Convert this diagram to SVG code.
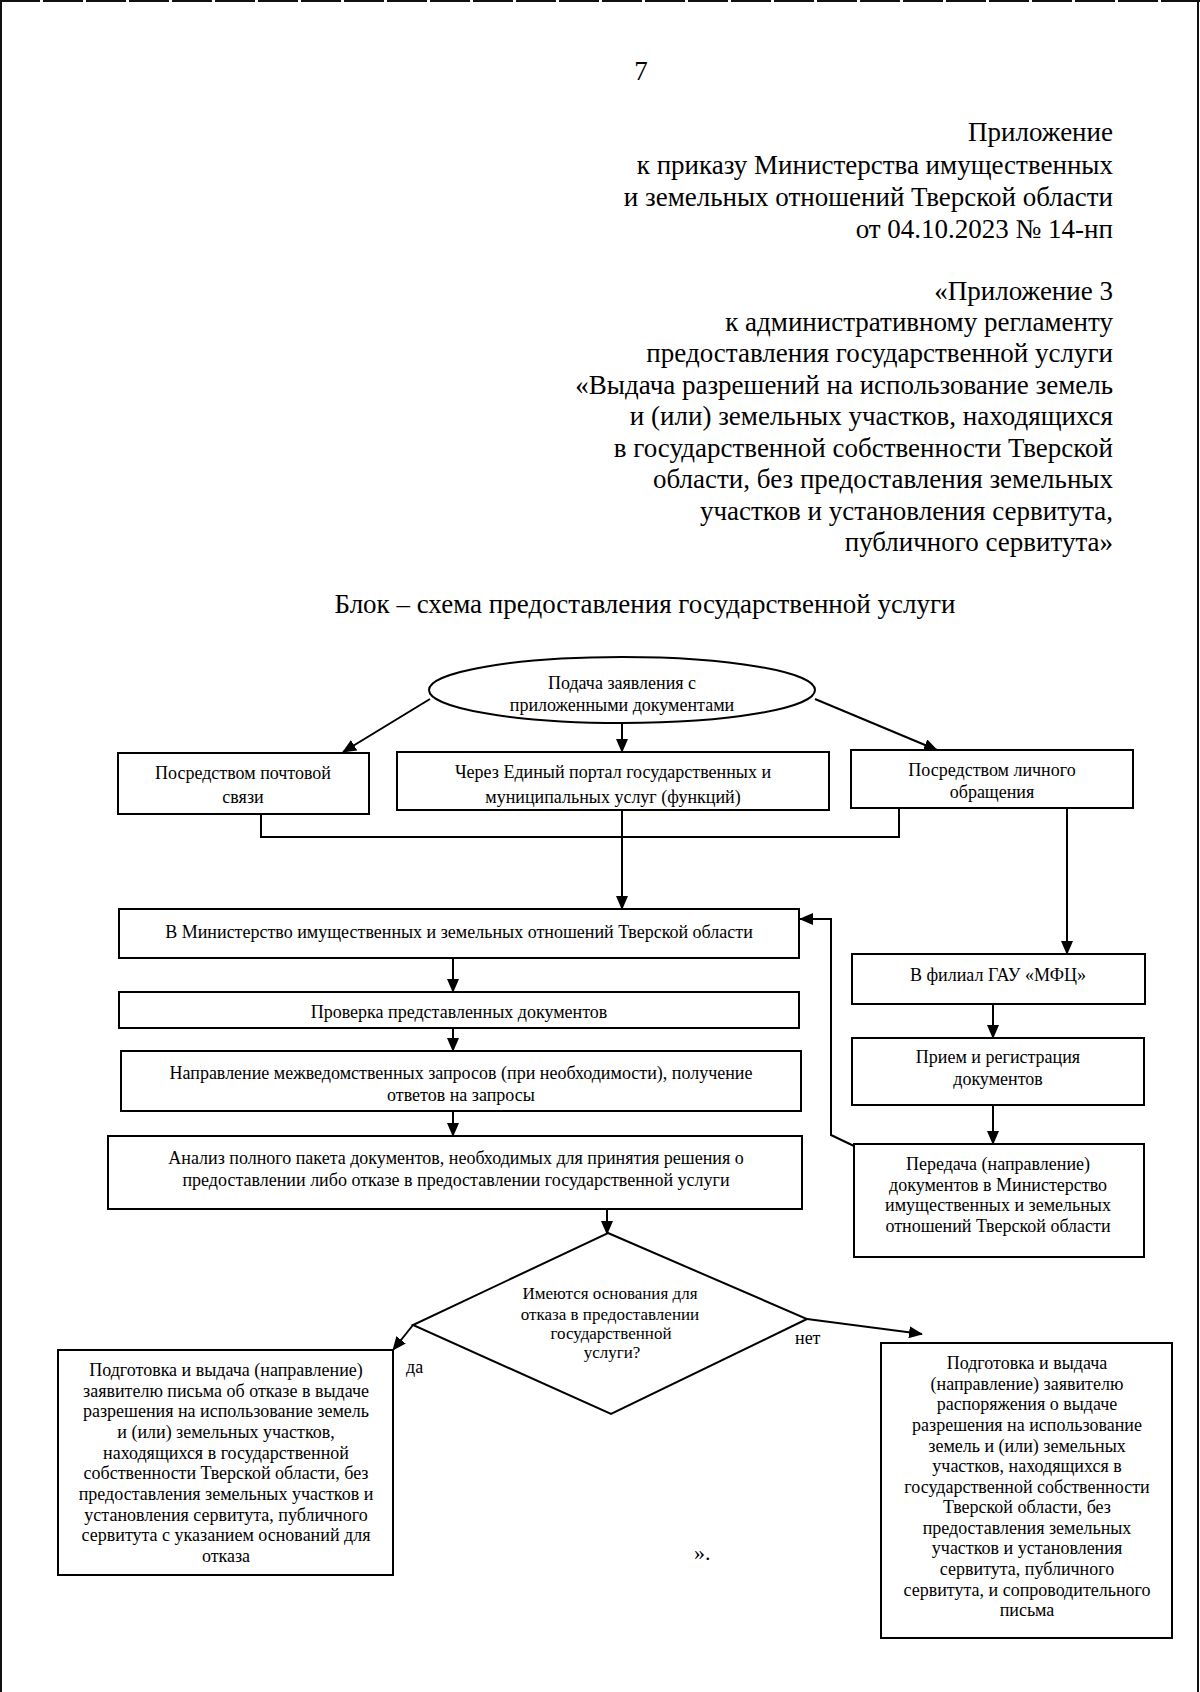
<svg xmlns="http://www.w3.org/2000/svg" width="1200" height="1692" viewBox="0 0 1200 1692">
<style>
text{font-family:"Liberation Serif","Times New Roman",serif;fill:#000}
.h{font-size:27px;text-anchor:end}
.t{font-size:18px;text-anchor:middle}
.d{font-size:17px;text-anchor:middle}
.box{fill:#fff;stroke:#000;stroke-width:2}
.ln{fill:none;stroke:#000;stroke-width:2}
.frame{stroke:#111;stroke-width:2}
</style>
<defs>
<marker id="ah" markerUnits="userSpaceOnUse" markerWidth="14" markerHeight="12" refX="13" refY="6" orient="auto">
<path d="M0,0 L14,6 L0,12 Z" fill="#000"/>
</marker>
</defs>
<rect width="1200" height="1692" fill="#fff"/>
<g id="page-frame">
<line class="frame" x1="0" y1="1" x2="1200" y2="1" stroke-dasharray="40 3"/>
<line class="frame" x1="1" y1="0" x2="1" y2="1692"/>
<line class="frame" x1="1198" y1="0" x2="1198" y2="1692"/>
</g>
<g id="header">
<text x="641" y="80" style="font-size:27px;text-anchor:middle">7</text>
<text class="h" x="1113" y="141">Приложение</text>
<text class="h" x="1113" y="174">к приказу Министерства имущественных</text>
<text class="h" x="1113" y="206">и земельных отношений Тверской области</text>
<text class="h" x="1113" y="238">от 04.10.2023 № 14-нп</text>
<text class="h" x="1113" y="300">«Приложение 3</text>
<text class="h" x="1113" y="331">к административному регламенту</text>
<text class="h" x="1113" y="362">предоставления государственной услуги</text>
<text class="h" x="1113" y="394">«Выдача разрешений на использование земель</text>
<text class="h" x="1113" y="425">и (или) земельных участков, находящихся</text>
<text class="h" x="1113" y="457">в государственной собственности Тверской</text>
<text class="h" x="1113" y="488">области, без предоставления земельных</text>
<text class="h" x="1113" y="520">участков и установления сервитута,</text>
<text class="h" x="1113" y="551">публичного сервитута»</text>
<text x="645" y="613" style="font-size:27px;text-anchor:middle">Блок – схема предоставления государственной услуги</text>
</g>
<g id="connectors">
<line class="ln" x1="430" y1="699" x2="343" y2="752" marker-end="url(#ah)"/>
<line class="ln" x1="622" y1="723" x2="622" y2="752" marker-end="url(#ah)"/>
<line class="ln" x1="815" y1="699" x2="937" y2="750" marker-end="url(#ah)"/>
<polyline class="ln" points="261,814 261,837 899,837 899,808"/>
<line class="ln" x1="622" y1="810" x2="622" y2="909" marker-end="url(#ah)"/>
<line class="ln" x1="1067" y1="808" x2="1067" y2="954" marker-end="url(#ah)"/>
<line class="ln" x1="453" y1="958" x2="453" y2="992" marker-end="url(#ah)"/>
<line class="ln" x1="453" y1="1028" x2="453" y2="1051" marker-end="url(#ah)"/>
<line class="ln" x1="453" y1="1111" x2="453" y2="1136" marker-end="url(#ah)"/>
<line class="ln" x1="607" y1="1209" x2="607" y2="1234" marker-end="url(#ah)"/>
<line class="ln" x1="993" y1="1004" x2="993" y2="1038" marker-end="url(#ah)"/>
<line class="ln" x1="993" y1="1105" x2="993" y2="1144" marker-end="url(#ah)"/>
<polyline class="ln" points="854,1146 831,1135 831,919 800,919" marker-end="url(#ah)"/>
<line class="ln" x1="413" y1="1325" x2="393" y2="1350" marker-end="url(#ah)"/>
<line class="ln" x1="807" y1="1319" x2="922" y2="1334" marker-end="url(#ah)"/>
</g>
<g id="start">
<ellipse class="box" cx="622" cy="690" rx="193" ry="33"/>
<text class="t" x="622" y="689">Подача заявления с</text>
<text class="t" x="622" y="711">приложенными документами</text>
</g>
<g id="post">
<rect class="box" x="118" y="753" width="251" height="61"/>
<text class="t" x="243" y="779">Посредством почтовой</text>
<text class="t" x="243" y="803">связи</text>
</g>
<g id="portal">
<rect class="box" x="397" y="752" width="432" height="58"/>
<text class="t" x="613" y="778">Через Единый портал государственных и</text>
<text class="t" x="613" y="803">муниципальных услуг (функций)</text>
</g>
<g id="personal">
<rect class="box" x="851" y="750" width="282" height="58"/>
<text class="t" x="992" y="776">Посредством личного</text>
<text class="t" x="992" y="798">обращения</text>
</g>
<g id="ministry">
<rect class="box" x="119" y="909" width="680" height="49"/>
<text class="t" x="459" y="938">В Министерство имущественных и земельных отношений Тверской области</text>
</g>
<g id="check">
<rect class="box" x="119" y="992" width="680" height="36"/>
<text class="t" x="459" y="1018">Проверка представленных документов</text>
</g>
<g id="requests">
<rect class="box" x="121" y="1051" width="680" height="60"/>
<text class="t" x="461" y="1079">Направление межведомственных запросов (при необходимости), получение</text>
<text class="t" x="461" y="1101">ответов на запросы</text>
</g>
<g id="analysis">
<rect class="box" x="108" y="1136" width="694" height="73"/>
<text class="t" x="456" y="1164">Анализ полного пакета документов, необходимых для принятия решения о</text>
<text class="t" x="456" y="1186">предоставлении либо отказе в предоставлении государственной услуги</text>
</g>
<g id="branch">
<rect class="box" x="852" y="954" width="293" height="50"/>
<text class="t" x="998" y="981">В филиал ГАУ «МФЦ»</text>
</g>
<g id="reception">
<rect class="box" x="852" y="1038" width="292" height="67"/>
<text class="t" x="998" y="1063">Прием и регистрация</text>
<text class="t" x="998" y="1085">документов</text>
</g>
<g id="transfer">
<rect class="box" x="854" y="1144" width="290" height="113"/>
<text class="t" x="998" y="1170">Передача (направление)</text>
<text class="t" x="998" y="1191">документов в Министерство</text>
<text class="t" x="998" y="1211">имущественных и земельных</text>
<text class="t" x="998" y="1232">отношений Тверской области</text>
</g>
<g id="decision">
<polygon class="box" points="608,1233 807,1319 611,1414 413,1325"/>
<text class="d" x="610" y="1299">Имеются основания для</text>
<text class="d" x="610" y="1320">отказа в предоставлении</text>
<text class="d" x="611" y="1339">государственной</text>
<text class="d" x="612" y="1358">услуги?</text>
</g>
<g id="labels">
<text x="406" y="1373" style="font-size:18px">да</text>
<text x="795" y="1344" style="font-size:18px">нет</text>
</g>
<g id="refusal">
<rect class="box" x="58" y="1350" width="335" height="225"/>
<text class="t" x="226" y="1376">Подготовка и выдача (направление)</text>
<text class="t" x="226" y="1397">заявителю письма об отказе в выдаче</text>
<text class="t" x="226" y="1417">разрешения на использование земель</text>
<text class="t" x="226" y="1438">и (или) земельных участков,</text>
<text class="t" x="226" y="1459">находящихся в государственной</text>
<text class="t" x="226" y="1479">собственности Тверской области, без</text>
<text class="t" x="226" y="1500">предоставления земельных участков и</text>
<text class="t" x="226" y="1521">установления сервитута, публичного</text>
<text class="t" x="226" y="1541">сервитута с указанием оснований для</text>
<text class="t" x="226" y="1562">отказа</text>
</g>
<g id="approval">
<rect class="box" x="881" y="1343" width="291" height="295"/>
<text class="t" x="1027" y="1369">Подготовка и выдача</text>
<text class="t" x="1027" y="1390">(направление) заявителю</text>
<text class="t" x="1027" y="1410">распоряжения о выдаче</text>
<text class="t" x="1027" y="1431">разрешения на использование</text>
<text class="t" x="1027" y="1452">земель и (или) земельных</text>
<text class="t" x="1027" y="1472">участков, находящихся в</text>
<text class="t" x="1027" y="1493">государственной собственности</text>
<text class="t" x="1027" y="1513">Тверской области, без</text>
<text class="t" x="1027" y="1534">предоставления земельных</text>
<text class="t" x="1027" y="1554">участков и установления</text>
<text class="t" x="1027" y="1575">сервитута, публичного</text>
<text class="t" x="1027" y="1596">сервитута, и сопроводительного</text>
<text class="t" x="1027" y="1616">письма</text>
</g>
<g id="closing">
<text x="694" y="1560" style="font-size:22px">».</text>
</g>
</svg>
